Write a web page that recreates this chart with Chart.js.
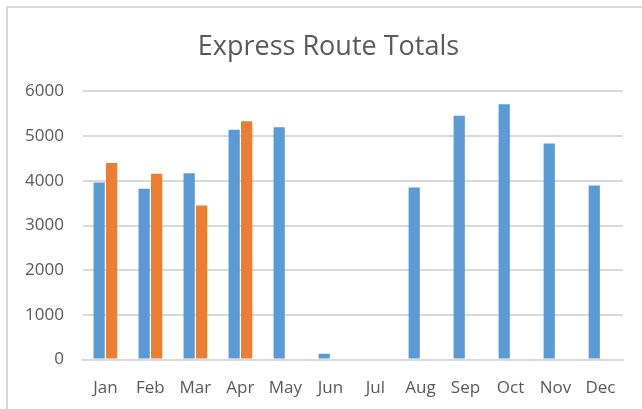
<!DOCTYPE html>
<html>
<head>
<meta charset="utf-8">
<script src="https://cdn.jsdelivr.net/npm/chart.js@4/dist/chart.umd.min.js"></script>
<style>
  html, body { margin: 0; padding: 0; background: #fff; }
  #frame {
    position: absolute; left: 6px; top: 6px; width: 700px; height: 500px;
    border-top: 2px solid #d9d9d9; border-left: 2px solid #d9d9d9;
  }
  #wrap { position: absolute; left: 0; top: 0; width: 642px; height: 409px; }
</style>
</head>
<body>
<div id="frame"></div>
<div id="wrap"><canvas id="chart" width="642" height="409"></canvas></div>
<script>
'use strict';

var months = ["Jan", "Feb", "Mar", "Apr", "May", "Jun", "Jul", "Aug", "Sep", "Oct", "Nov", "Dec"];
var blueTotals = [3960, 3820, 4170, 5140, 5200, 130, null, 3850, 5455, 5710, 4835, 3895];
var orangeTotals = [4400, 4155, 3445, 5335, null, null, null, null, null, null, null, null];
var yTicks = [0, 1000, 2000, 3000, 4000, 5000, 6000];

var ctx = document.getElementById('chart').getContext('2d');

// title in the original sits centred on the whole frame, not the padded box
var shiftTitle = {
    id: 'shiftTitle',
    afterLayout: function(chart) {
        if (chart.titleBlock) {
            chart.titleBlock.left += 14;
            chart.titleBlock.right += 14;
        }
    }
};

var chart = new Chart(ctx, {
    type: 'bar',
    data: {
        labels: months,
        datasets: [
            {
                label: "Series1",
                data: blueTotals,
                backgroundColor: "#5b9bd5",
                categoryPercentage: 0.555,
                barPercentage: 0.9
            },
            {
                label: "Series2",
                data: orangeTotals,
                backgroundColor: "#ed7d31",
                categoryPercentage: 0.555,
                barPercentage: 0.9
            }
        ]
    },
    options: {
        responsive: false,
        animation: false,
        layout: { padding: { left: 6, right: 19, top: 0, bottom: -7 } },
        plugins: {
            legend: { display: false },
            tooltip: { enabled: false },
            title: {
                display: true,
                text: "Express Route Totals",
                color: "#595959",
                font: { family: "Open Sans", size: 27, weight: 'normal' },
                padding: { top: 31, bottom: 28 }
            }
        },
        scales: {
            x: {
                grid: { display: false, drawTicks: false },
                border: { display: true, color: "#d9d9d9", width: 2 },
                ticks: {
                    color: "#595959",
                    padding: 18,
                    font: { family: "Open Sans", size: 17 }
                }
            },
            y: {
                min: yTicks[0],
                max: yTicks[yTicks.length - 1],
                afterBuildTicks: function(scale) {
                    scale.ticks = yTicks.map(function(v) { return { value: v }; });
                },
                grid: { color: "#d9d9d9", lineWidth: 2, drawTicks: false },
                border: { display: false },
                ticks: {
                    color: "#595959",
                    padding: 19,
                    font: { family: "Open Sans", size: 17 },
                    callback: function(v) { return String(v); }
                }
            }
        }
    },
    plugins: [shiftTitle]
});
</script>
</body>
</html>
